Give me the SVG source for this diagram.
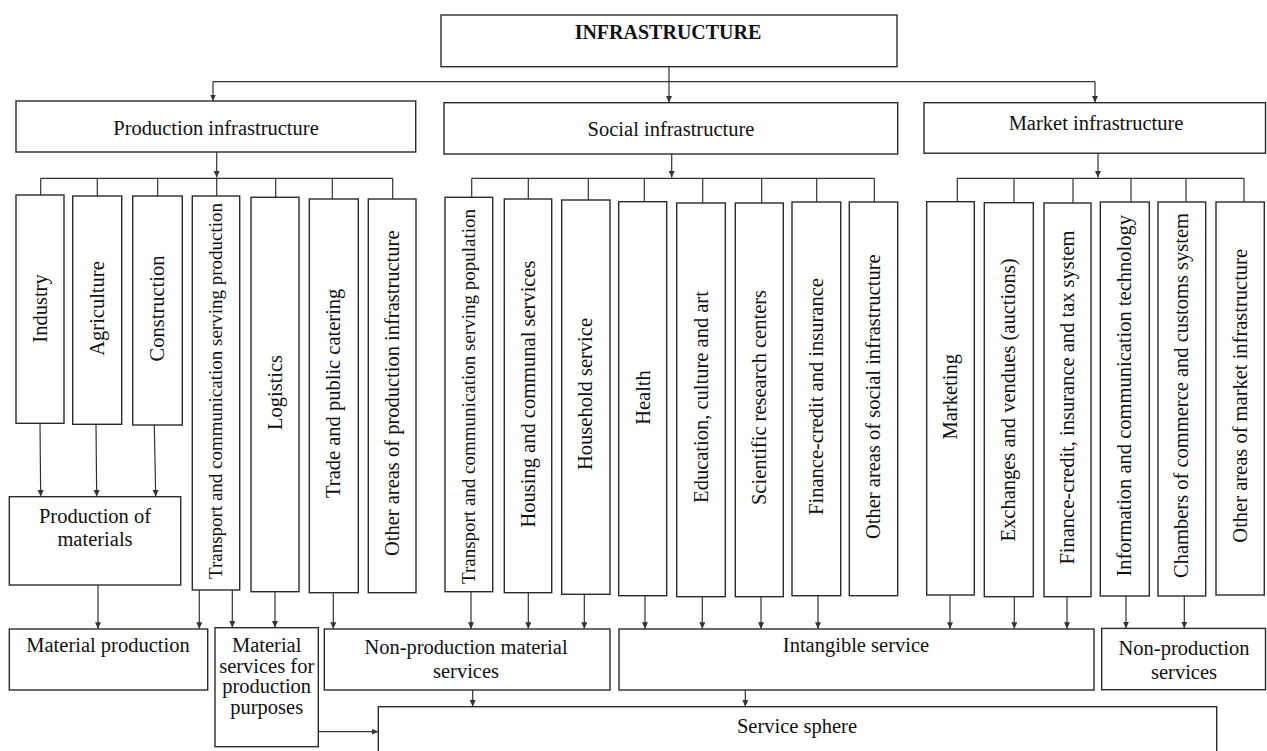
<svg xmlns="http://www.w3.org/2000/svg" width="1267" height="751" viewBox="0 0 1267 751">
<defs>
<marker id="ah" markerUnits="userSpaceOnUse" markerWidth="8" markerHeight="8" refX="6.5" refY="3" orient="auto">
<path d="M0,0 L6.5,3 L0,6 Z" fill="#333"/>
</marker>
<style>
.box{fill:#fff;stroke:#2b2b2b;stroke-width:1.4}
.t{font-family:"Liberation Serif","Times New Roman",serif;font-size:20.5px;fill:#111;text-anchor:middle}
.b{font-weight:bold;font-size:20px}
.s{font-size:19px}
.c line,.c path{stroke:#333;stroke-width:1.2;fill:none}
.a{marker-end:url(#ah)}
</style>
</defs>
<rect width="1267" height="751" fill="#fff"/>

<g id="connectors" class="c">
<line x1="669" y1="66.7" x2="669" y2="102.5" class="a"/>
<line x1="213" y1="81.7" x2="1095" y2="81.7"/>
<line x1="213" y1="81.7" x2="213" y2="101" class="a"/>
<line x1="1095" y1="81.7" x2="1095" y2="102.5" class="a"/>

<line x1="216.7" y1="152" x2="216.7" y2="177.5" class="a"/>
<line x1="40.7" y1="178.3" x2="392.7" y2="178.3"/>
<line x1="40.7" y1="178.3" x2="40.7" y2="195"/>
<line x1="97.3" y1="178.3" x2="97.3" y2="196"/>
<line x1="157.7" y1="178.3" x2="157.7" y2="196"/>
<line x1="216.7" y1="178.3" x2="216.7" y2="196"/>
<line x1="275.7" y1="178.3" x2="275.7" y2="197.3"/>
<line x1="332.3" y1="178.3" x2="332.3" y2="199"/>
<line x1="392.7" y1="178.3" x2="392.7" y2="199"/>

<line x1="671.7" y1="154" x2="671.7" y2="177.5" class="a"/>
<line x1="471.7" y1="178.3" x2="874.3" y2="178.3"/>
<line x1="471.7" y1="178.3" x2="471.7" y2="197.3"/>
<line x1="528.3" y1="178.3" x2="528.3" y2="199"/>
<line x1="588.3" y1="178.3" x2="588.3" y2="200"/>
<line x1="644.3" y1="178.3" x2="644.3" y2="201.7"/>
<line x1="702.7" y1="178.3" x2="702.7" y2="203"/>
<line x1="761.7" y1="178.3" x2="761.7" y2="203"/>
<line x1="816.7" y1="178.3" x2="816.7" y2="202"/>
<line x1="874.3" y1="178.3" x2="874.3" y2="202"/>

<line x1="1098" y1="153.2" x2="1098" y2="177.5" class="a"/>
<line x1="956.7" y1="178.3" x2="1244" y2="178.3"/>
<line x1="957.3" y1="178.3" x2="957.3" y2="201.7"/>
<line x1="1014" y1="178.3" x2="1014" y2="202.7"/>
<line x1="1073" y1="178.3" x2="1073" y2="203"/>
<line x1="1131" y1="178.3" x2="1131" y2="202"/>
<line x1="1186" y1="178.3" x2="1186" y2="202"/>
<line x1="1244" y1="178.3" x2="1244" y2="202"/>

<line x1="40" y1="423.3" x2="40.7" y2="496.5" class="a"/>
<line x1="96" y1="424.3" x2="96.7" y2="496.5" class="a"/>
<line x1="154.3" y1="425" x2="155.7" y2="496.5" class="a"/>
<line x1="98" y1="585" x2="98" y2="628.8" class="a"/>
<line x1="199.3" y1="590" x2="199.3" y2="628.8" class="a"/>
<line x1="232.3" y1="590" x2="232.3" y2="627.5" class="a"/>
<line x1="275" y1="591.7" x2="275" y2="627.5" class="a"/>
<line x1="333.3" y1="592.7" x2="333.3" y2="628.8" class="a"/>
<line x1="471" y1="591.7" x2="471" y2="628.8" class="a"/>
<line x1="528.3" y1="592.7" x2="528.3" y2="628.8" class="a"/>
<line x1="584.3" y1="594.3" x2="584.3" y2="628.8" class="a"/>
<line x1="645" y1="595.7" x2="645" y2="628.8" class="a"/>
<line x1="702.3" y1="596.7" x2="702.3" y2="628.8" class="a"/>
<line x1="761" y1="596.7" x2="761" y2="628.8" class="a"/>
<line x1="818" y1="595.7" x2="818" y2="628.8" class="a"/>
<line x1="950" y1="595" x2="950" y2="628.8" class="a"/>
<line x1="1014.3" y1="596.7" x2="1014.3" y2="628.8" class="a"/>
<line x1="1067" y1="596.7" x2="1067" y2="628.8" class="a"/>
<line x1="1126" y1="596" x2="1126" y2="628.2" class="a"/>
<line x1="1184.3" y1="596" x2="1184.3" y2="628.2" class="a"/>
<line x1="472.7" y1="690" x2="472.7" y2="706.5" class="a"/>
<line x1="745.3" y1="690" x2="745.3" y2="706.5" class="a"/>
<line x1="318.3" y1="731.7" x2="378.2" y2="731.7" class="a"/>
</g>

<g id="infrastructure"><rect class="box" x="441" y="15" width="456" height="51.7"/><text class="t b" x="668" y="39">INFRASTRUCTURE</text></g>
<g id="production-infrastructure"><rect class="box" x="16" y="101" width="399.7" height="51"/><text class="t" x="216" y="135">Production infrastructure</text></g>
<g id="social-infrastructure"><rect class="box" x="444" y="102.7" width="453.7" height="51.3"/><text class="t" x="671" y="135.5">Social infrastructure</text></g>
<g id="market-infrastructure"><rect class="box" x="924" y="102.7" width="341.5" height="50.5"/><text class="t" x="1096" y="130">Market infrastructure</text></g>

<g id="industry"><rect class="box" x="16" y="195" width="48" height="228.3"/><text class="t" transform="translate(40,308.5) rotate(-90)" y="6.5">Industry</text></g>
<g id="agriculture"><rect class="box" x="72.7" y="196" width="49" height="228.3"/><text class="t" transform="translate(97.2,308.5) rotate(-90)" y="6.5">Agriculture</text></g>
<g id="construction"><rect class="box" x="132.7" y="196" width="49.6" height="229"/><text class="t" transform="translate(157.5,308.5) rotate(-90)" y="6.5">Construction</text></g>
<g id="transport-production"><rect class="box" x="192.3" y="196" width="47.4" height="394"/><text class="t s" transform="translate(216,391) rotate(-90)" y="6">Transport and communication serving production</text></g>
<g id="logistics"><rect class="box" x="251" y="197.3" width="48" height="394.4"/><text class="t" transform="translate(275,392.5) rotate(-90)" y="6.5">Logistics</text></g>
<g id="trade"><rect class="box" x="309.3" y="199" width="49" height="393.7"/><text class="t" transform="translate(333.8,393.3) rotate(-90)" y="6.5">Trade and public catering</text></g>
<g id="other-production"><rect class="box" x="368.3" y="199" width="47.7" height="393.7"/><text class="t" transform="translate(392.2,393.3) rotate(-90)" y="6.5">Other areas of production infrastructure</text></g>

<g id="transport-population"><rect class="box" x="445" y="197.3" width="47.7" height="394.4"/><text class="t s" transform="translate(468.8,396.5) rotate(-90)" y="6">Transport and communication serving population</text></g>
<g id="housing"><rect class="box" x="504.3" y="199" width="47.4" height="393.7"/><text class="t" transform="translate(528,394) rotate(-90)" y="6.5">Housing and communal services</text></g>
<g id="household"><rect class="box" x="561.7" y="200" width="48.3" height="394.3"/><text class="t" transform="translate(585.8,394) rotate(-90)" y="6.5">Household service</text></g>
<g id="health"><rect class="box" x="618.7" y="201.7" width="48" height="394"/><text class="t" transform="translate(642.7,397.5) rotate(-90)" y="7">Health</text></g>
<g id="education"><rect class="box" x="676.7" y="203" width="48.6" height="393.7"/><text class="t" transform="translate(701,397) rotate(-90)" y="6.5">Education, culture and art</text></g>
<g id="scientific"><rect class="box" x="735.3" y="203" width="48" height="393.7"/><text class="t" transform="translate(759.3,397.5) rotate(-90)" y="6.5">Scientific research centers</text></g>
<g id="finance-social"><rect class="box" x="792" y="202" width="48.7" height="393.7"/><text class="t" transform="translate(816.3,396.5) rotate(-90)" y="6.5">Finance-credit and insurance</text></g>
<g id="other-social"><rect class="box" x="849.3" y="202" width="48.4" height="393.7"/><text class="t" transform="translate(873.5,396.7) rotate(-90)" y="6.5">Other areas of social infrastructure</text></g>

<g id="marketing"><rect class="box" x="926.7" y="201.7" width="47.6" height="393.3"/><text class="t" transform="translate(950.5,396.7) rotate(-90)" y="6.5">Marketing</text></g>
<g id="exchanges"><rect class="box" x="984.3" y="202.7" width="49" height="394"/><text class="t" transform="translate(1008.8,400) rotate(-90)" y="6.5">Exchanges and vendues (auctions)</text></g>
<g id="finance-market"><rect class="box" x="1044" y="203" width="47" height="393.7"/><text class="t" transform="translate(1067.5,397.5) rotate(-90)" y="6.5">Finance-credit, insurance and tax system</text></g>
<g id="ict"><rect class="box" x="1100.3" y="202" width="49" height="394"/><text class="t" transform="translate(1124.8,395.8) rotate(-90)" y="6.5">Information and communication technology</text></g>
<g id="chambers"><rect class="box" x="1158" y="202" width="47.7" height="394"/><text class="t" transform="translate(1181.8,395.5) rotate(-90)" y="6.5">Chambers of commerce and customs system</text></g>
<g id="other-market"><rect class="box" x="1216" y="202" width="48.3" height="393"/><text class="t" transform="translate(1240,395.8) rotate(-90)" y="6.5">Other areas of market infrastructure</text></g>

<g id="production-of-materials"><rect class="box" x="9.3" y="496.7" width="171.4" height="88.3"/><text class="t" x="95" y="523.3">Production of</text><text class="t" x="95" y="545.5">materials</text></g>
<g id="material-production"><rect class="box" x="9.3" y="629" width="198.4" height="61"/><text class="t" x="108" y="652.3">Material production</text></g>
<g id="material-services"><rect class="box" x="215" y="627.7" width="103.3" height="119"/><text class="t" x="266.7" y="651.7">Material</text><text class="t" x="266.7" y="672.5">services for</text><text class="t" x="266.7" y="693.3">production</text><text class="t" x="266.7" y="714.3">purposes</text></g>
<g id="non-production-material-services"><rect class="box" x="324.3" y="629" width="285.7" height="61"/><text class="t" x="466" y="653.5">Non-production material</text><text class="t" x="466" y="678">services</text></g>
<g id="intangible-service"><rect class="box" x="619" y="629" width="475" height="61"/><text class="t" x="856" y="652">Intangible service</text></g>
<g id="non-production-services"><rect class="box" x="1101.7" y="628.4" width="163.8" height="61.3"/><text class="t" x="1184" y="655">Non-production</text><text class="t" x="1184" y="679">services</text></g>
<g id="service-sphere"><rect class="box" x="378.3" y="706.7" width="838.4" height="60"/><text class="t" x="797" y="733.3">Service sphere</text></g>
</svg>
